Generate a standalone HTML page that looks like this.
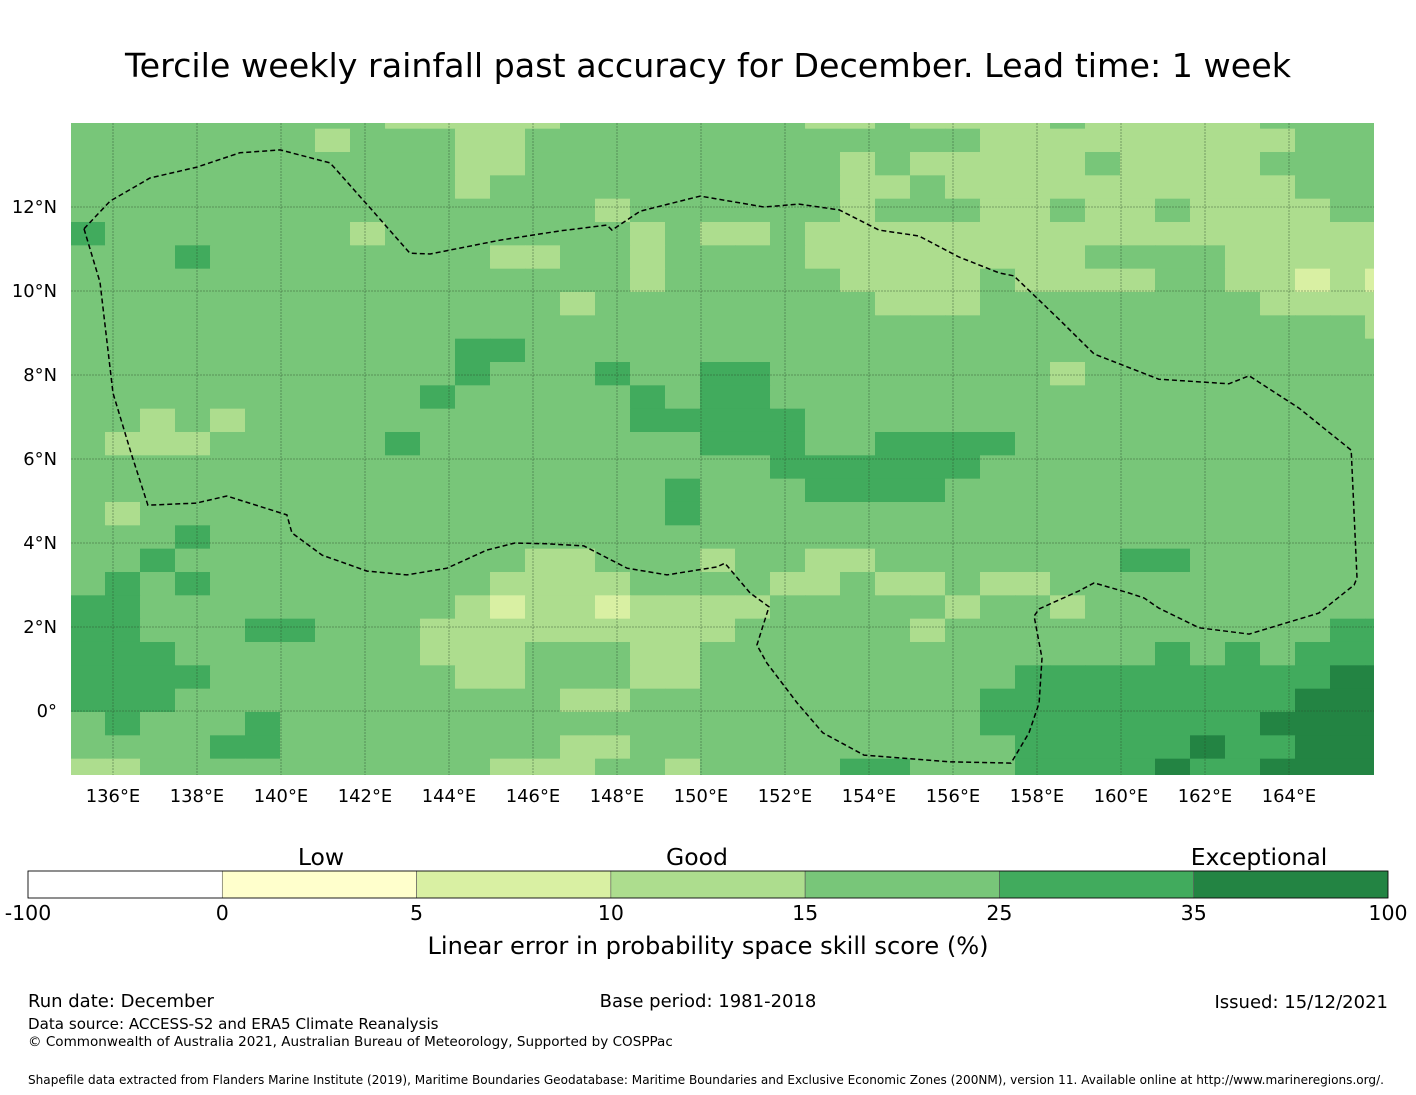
<!DOCTYPE html>
<html><head><meta charset="utf-8"><style>
body{margin:0;background:#fff;}
svg{display:block;font-family:"DejaVu Sans","Liberation Sans",sans-serif;}
</style></head><body>
<svg id="chart" width="1416" height="1095" viewBox="0 0 1416 1095" xmlns="http://www.w3.org/2000/svg">
<rect width="1416" height="1095" fill="#fff"/>
<text x="708" y="77" font-size="33.3" text-anchor="middle">Tercile weekly rainfall past accuracy for December. Lead time: 1 week</text>
<defs><clipPath id="mapclip"><rect x="71" y="123" width="1303" height="652"/></clipPath></defs>
<g id="cells" clip-path="url(#mapclip)"></g>
<g id="grid" clip-path="url(#mapclip)"></g>
<polyline id="eez" fill="none" stroke="#000" stroke-width="1.5" stroke-dasharray="5,3" clip-path="url(#mapclip)"/>
<g id="lonlabels"></g>
<g id="latlabels"></g>
<g id="colorbar"></g>
<text x="321" y="865" font-size="23.5" text-anchor="middle">Low</text>
<text x="697" y="865" font-size="23.5" text-anchor="middle">Good</text>
<text x="1259" y="865" font-size="23.5" text-anchor="middle">Exceptional</text>
<text x="708" y="954" font-size="24.1" text-anchor="middle">Linear error in probability space skill score (%)</text>
<text x="28" y="1007" font-size="18">Run date: December</text>
<text x="708" y="1007" font-size="18" text-anchor="middle">Base period: 1981-2018</text>
<text x="1388" y="1008" font-size="18" text-anchor="end">Issued: 15/12/2021</text>
<text x="28" y="1029" font-size="15.1">Data source: ACCESS-S2 and ERA5 Climate Reanalysis</text>
<text x="28" y="1046" font-size="13.55">© Commonwealth of Australia 2021, Australian Bureau of Meteorology, Supported by COSPPac</text>
<text x="28" y="1084" font-size="12.07">Shapefile data extracted from Flanders Marine Institute (2019), Maritime Boundaries Geodatabase: Maritime Boundaries and Exclusive Economic Zones (200NM), version 11. Available online at http://www.marineregions.org/.</text>
</svg>
<script>
// ---- data ----
const classColors = {e:"#d9f0a3", a:"#addd8e", b:"#78c679", c:"#41ab5d", d:"#238443"};
const gridRows = [
"bbbbbbbbbaaaaabbbbbbbaabaaaabaaaaabbbb",
"bbbbbbbabbbaabbbbbbbbbbbbbaaaaaaaaabbb",
"bbbbbbbbbbbaabbbbbbbbbabaaaaabaaaabbbb",
"bbbbbbbbbbbabbbbbbbbbbaabaaaaaaaaaabbb",
"bbbbbbbbbbbbbbbabbbbbbabbbaabaabaaaabb",
"cbbbbbbbabbbbbbbabaabaaaaaaaaaaaaaaaaa",
"bbbcbbbbbbbbaabbabbbbaaaaaaaabbbbaaaaa",
"bbbbbbbbbbbbbbbbabbbbbaaaabaaaabbaaeae",
"bbbbbbbbbbbbbbabbbbbbbbaaabbbbbbbbaaaa",
"bbbbbbbbbbbbbbbbbbbbbbbbbbbbbbbbbbbbba",
"bbbbbbbbbbbccbbbbbbbbbbbbbbbbbbbbbbbbb",
"bbbbbbbbbbbcbbbcbbccbbbbbbbbabbbbbbbbb",
"bbbbbbbbbbcbbbbbcbccbbbbbbbbbbbbbbbbbb",
"bbababbbbbbbbbbbcccccbbbbbbbbbbbbbbbbb",
"baaabbbbbcbbbbbbbbcccbbccccbbbbbbbbbbb",
"bbbbbbbbbbbbbbbbbbbbccccccbbbbbbbbbbbb",
"bbbbbbbbbbbbbbbbbcbbbccccbbbbbbbbbbbbb",
"babbbbbbbbbbbbbbbcbbbbbbbbbbbbbbbbbbbb",
"bbbcbbbbbbbbbbbbbbbbbbbbbbbbbbbbbbbbbb",
"bbcbbbbbbbbbbaabbbabbaabbbbbbbccbbbbbb",
"bcbcbbbbbbbbaaaabbbbaabaabaabbbbbbbbbb",
"ccbbbbbbbbbaeaaeaaaabbbbbabbabbbbbbbbb",
"ccbbbccbbbaaaaaaaaabbbbbabbbbbbbbbbbcc",
"cccbbbbbbbaaabbbaabbbbbbbbbbbbbcbcbccc",
"ccccbbbbbbbaabbbaabbbbbbbbbcccccccccdd",
"cccbbbbbbbbbbbaabbbbbbbbbbcccccccccddd",
"bcbbbcbbbbbbbbbbbbbbbbbbbbccccccccdddd",
"bbbbccbbbbbbbbaabbbbbbbbbbbcccccdccddd",
"aabbbbbbbbbbaaabbabbbbccbbbccccdccdddd"
];
const lonTicks = [136,138,140,142,144,146,148,150,152,154,156,158,160,162,164];
const latTicks = [12,10,8,6,4,2,0];
const cbBounds = ["-100","0","5","10","15","25","35","100"];
const cbColors = ["#ffffff","#ffffcc","#d9f0a3","#addd8e","#78c679","#41ab5d","#238443"];
const eezLonLat = [[135.31,11.48],[135.93,12.14],[136.88,12.69],[138.0,12.95],[139.02,13.29],[139.98,13.36],[141.17,13.05],[142.12,11.98],[143.07,10.9],[143.55,10.88],[145.21,11.21],[146.64,11.43],[147.76,11.57],[147.88,11.45],[148.55,11.9],[149.98,12.26],[151.5,12.0],[152.33,12.07],[153.29,11.93],[154.24,11.45],[155.19,11.31],[156.14,10.81],[157.1,10.43],[157.45,10.36],[158.52,9.33],[159.36,8.5],[160.9,7.9],[162.57,7.79],[163.05,7.98],[164.24,7.21],[165.48,6.21],[165.62,3.17],[165.55,3.0],[164.71,2.33],[163.05,1.83],[161.86,1.98],[160.9,2.45],[160.55,2.69],[160.19,2.81],[159.36,3.05],[159.0,2.86],[158.05,2.43],[157.93,2.26],[158.12,1.26],[158.05,0.19],[157.81,-0.52],[157.38,-1.24],[155.9,-1.21],[153.88,-1.05],[152.9,-0.52],[152.29,0.19],[151.57,1.14],[151.33,1.57],[151.62,2.48],[151.17,2.81],[150.57,3.52],[150.38,3.43],[149.19,3.24],[148.24,3.4],[147.21,3.93],[146.33,3.98],[145.57,4.0],[144.9,3.83],[143.95,3.4],[143.0,3.24],[142.05,3.33],[140.98,3.71],[140.26,4.24],[140.14,4.67],[138.71,5.12],[137.98,4.95],[136.83,4.9],[136.43,6.14],[136.0,7.57],[135.69,10.21],[135.31,11.48]];
// ---- axes ----
const lonX = lon => 113 + (lon - 136) * 42;
const latY = lat => 711 - lat * 42;
const colX = c => 70 + c * 35;
const rowY = r => r === 0 ? 123 : 128.67 + (r - 1) * 23.333;
const rowH = r => r === 0 ? 5.67 : 23.333;
const NS = "http://www.w3.org/2000/svg";
function mk(tag, attrs, parent){const e=document.createElementNS(NS,tag);for(const k in attrs)e.setAttribute(k,attrs[k]);parent.appendChild(e);return e;}
const cells = document.getElementById('cells');
gridRows.forEach((row, r) => {
  for (let c = 0; c < row.length; c++) {
    const rc = mk('rect', {x: colX(c), y: rowY(r), width: 35.5, height: rowH(r) + 0.5, fill: classColors[row[c]]}, cells);
    
    
  }
});
const grid = document.getElementById('grid');
const lonG = document.getElementById('lonlabels');
lonTicks.forEach(lon => {
  const l = mk('line', {x1: lonX(lon), x2: lonX(lon), y1: 123, y2: 775, stroke: '#2a4a2a', 'stroke-opacity': 0.55, 'stroke-width': 0.8, 'stroke-dasharray': '2,1'}, grid);
  
  
  const t = mk('text', {x: lonX(lon), y: 802, 'font-size': 17.9, 'text-anchor': 'middle'}, lonG);
  t.textContent = lon + '°E';
  
  
});
const latG = document.getElementById('latlabels');
latTicks.forEach(lat => {
  const l = mk('line', {x1: 71, x2: 1374, y1: latY(lat), y2: latY(lat), stroke: '#2a4a2a', 'stroke-opacity': 0.55, 'stroke-width': 0.8, 'stroke-dasharray': '2,1'}, grid);
  
  
  const t = mk('text', {x: 57, y: latY(lat) + 6, 'font-size': 17.9, 'text-anchor': 'end'}, latG);
  t.textContent = lat === 0 ? '0°' : lat + '°N';
  
  
});
document.getElementById('eez').setAttribute('points', eezLonLat.map(p => lonX(p[0]).toFixed(1) + ',' + latY(p[1]).toFixed(1)).join(' '));
const cb = document.getElementById('colorbar');
const cbX0 = 28, cbW = 1360, segW = cbW / cbColors.length;
cbColors.forEach((col, i) => {
  const s = mk('rect', {x: cbX0 + i * segW, y: 871, width: segW, height: 27, fill: col, stroke: '#555', 'stroke-width': 0.6}, cb);
  
  
});
mk('rect', {x: cbX0, y: 871, width: cbW, height: 27, fill: 'none', stroke: '#000', 'stroke-width': 0.8}, cb);
cbBounds.forEach((lab, i) => {
  const t = mk('text', {x: cbX0 + i * segW, y: 920, 'font-size': 20.5, 'text-anchor': 'middle'}, cb);
  t.textContent = lab;
  
  
});
</script>
</body></html>
